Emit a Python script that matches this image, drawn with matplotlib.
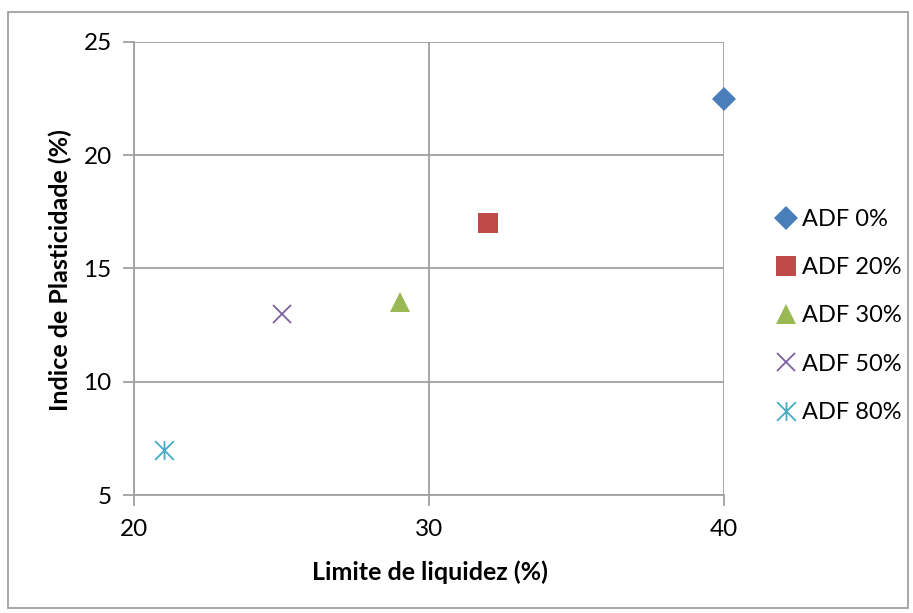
import matplotlib
matplotlib.use("Agg")
import matplotlib.pyplot as plt
from matplotlib.patches import Rectangle
from matplotlib.path import Path

plt.rcParams['font.family'] = ['Lato', 'DejaVu Sans']

labels = ["ADF 0%", "ADF 20%", "ADF 30%", "ADF 50%", "ADF 80%"]
liquid_limit = [40, 32, 29, 25, 21]
plasticity_index = [22.5, 17, 13.5, 13, 7]
colors = ["#4a7ebb", "#be4b48", "#98b954", "#7d60a0", "#46aac5"]

x_ticks = [20, 30, 40]
y_ticks = [5, 10, 15, 20, 25]

# star marker: an X crossed by a vertical stroke
star = Path([(-1, -1), (1, 1), (-1, 1), (1, -1), (0, -1), (0, 1)],
            [Path.MOVETO, Path.LINETO, Path.MOVETO, Path.LINETO, Path.MOVETO, Path.LINETO])

styles = [
    dict(marker="D", markersize=12.5, markeredgewidth=0),
    dict(marker="s", markersize=14, markeredgewidth=0),
    dict(marker="^", markersize=14.5, markeredgewidth=0),
    dict(marker="x", markersize=13.5, markeredgewidth=1.3),
    dict(marker=star, markersize=13.5, markeredgewidth=1.3),
]

fig = plt.figure(figsize=(9.13, 6.13), dpi=100)
ax = fig.add_axes([134 / 913, 1 - 495 / 613, (724 - 134) / 913, (495 - 42) / 613])

for lab, x, y, c, st in zip(labels, liquid_limit, plasticity_index, colors, styles):
    ax.plot([x], [y], linestyle="none", color=c, label=lab, clip_on=False, **st)

ax.set_xlim(20, 40)
ax.set_ylim(5, 25)
ax.set_xticks(x_ticks)
ax.set_yticks(y_ticks)
ax.grid(True, color="#a0a0a0", linewidth=1.3)
ax.set_axisbelow(True)
for side in ["top", "right"]:
    ax.spines[side].set_visible(False)
for side in ["left", "bottom"]:
    ax.spines[side].set_color("#a0a0a0")
    ax.spines[side].set_linewidth(1.3)
ax.tick_params(axis="both", direction="out", length=8, width=1.3, color="#a0a0a0",
               labelsize=17.5)
ax.tick_params(axis="x", pad=9)
ax.tick_params(axis="y", pad=8)

ax.set_xlabel("Limite de liquidez (%)", fontsize=18, fontweight="bold")
ax.set_ylabel("Indice de Plasticidade (%)", fontsize=18, fontweight="bold")
ax.xaxis.set_label_coords(430 / 913, 1 - 572 / 613, transform=fig.transFigure)
ax.yaxis.set_label_coords(60 / 913, 1 - 270 / 613, transform=fig.transFigure)
ax.xaxis.label.set_va("center")
ax.yaxis.label.set_va("center")

leg = ax.legend(loc="center left", bbox_to_anchor=(765 / 913, 1 - 316 / 613),
                bbox_transform=fig.transFigure, frameon=False, fontsize=17,
                handlelength=0.8, handletextpad=0.25, labelspacing=1.15, borderpad=0)

fig.patches.append(Rectangle((8 / 913, 1 - 608 / 613), (908 - 8) / 913, (608 - 12) / 613,
                             transform=fig.transFigure, fill=False,
                             edgecolor="#a0a0a0", linewidth=1.3))

fig.savefig("out.png", dpi=100)
